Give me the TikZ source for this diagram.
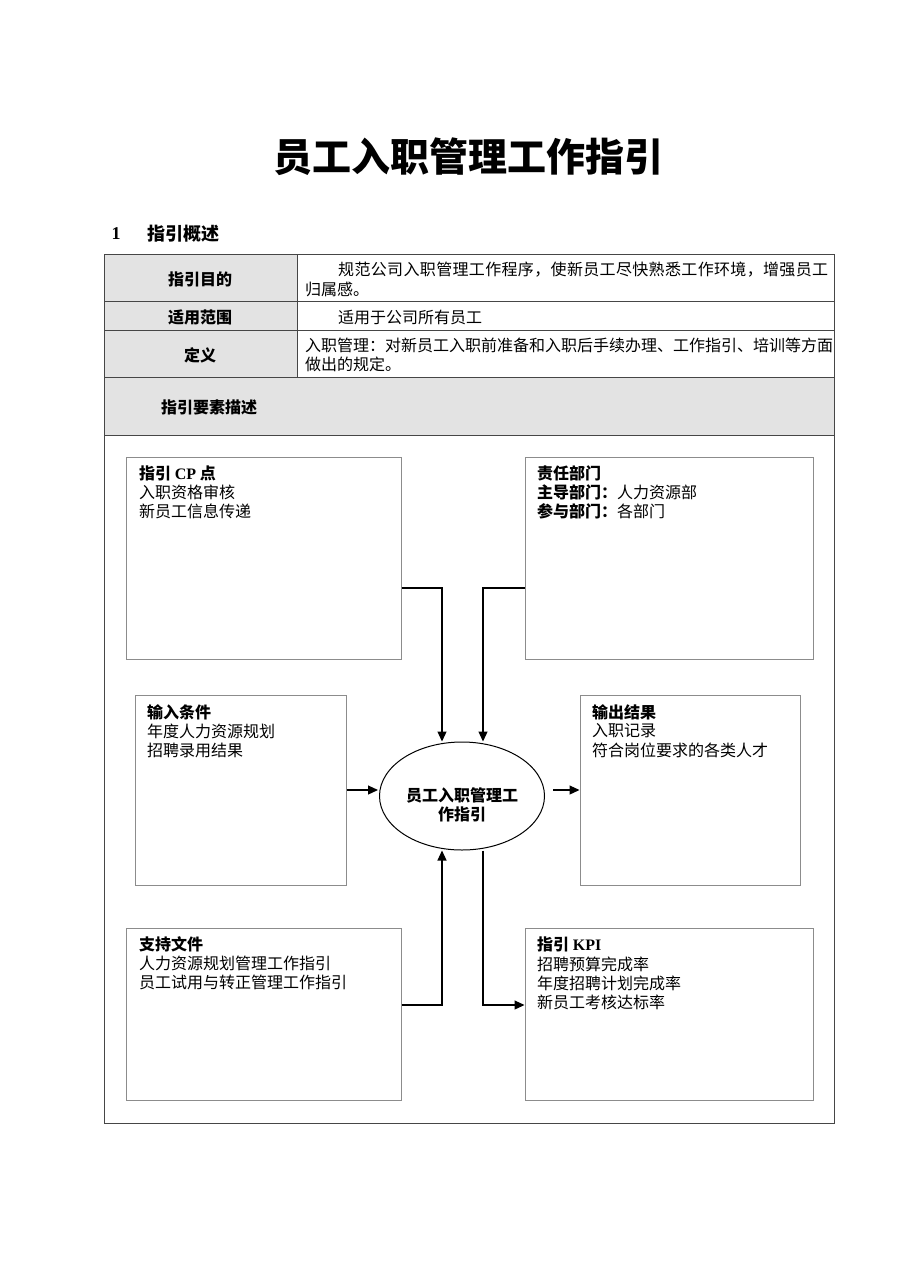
\documentclass[tikz,border=0pt]{standalone}
\usepackage{fontspec}
\setmainfont{Noto Sans CJK SC}
\newfontfamily\latf{Liberation Serif}
\usetikzlibrary{shapes.geometric,arrows.meta}
\definecolor{cellgray}{RGB}{227,227,227}
\definecolor{tabline}{RGB}{70,70,70}
\definecolor{boxline}{RGB}{140,140,140}
\ExplSyntaxOn
\bool_new:N \l_myspread_first_bool
\NewDocumentCommand\spreadline{mm}
  {
    \hbox to #1
      {
        \bool_set_true:N \l_myspread_first_bool
        \tl_map_inline:nn {#2}
          {
            \bool_if:NTF \l_myspread_first_bool
              { \bool_set_false:N \l_myspread_first_bool }
              { \hskip 0pt plus 1fil \relax }
            ##1
          }
      }
  }
\ExplSyntaxOff
\begin{document}
\begin{tikzpicture}[x=1pt,y=-1pt,
  txt/.style={anchor=west,inner sep=0pt,font=\fontsize{16pt}{19pt}\selectfont},
  lbl/.style={inner sep=0pt,font=\fontsize{16pt}{19pt}\selectfont\bfseries},
  infobox/.style={draw=boxline,line width=1pt,inner sep=0pt},
  arr/.style={draw=black,line width=1.2pt,-{Triangle[length=10pt,width=9pt]}},
  conn/.style={draw=black,line width=1.2pt}]
\useasboundingbox[fill=white] (0,0) rectangle (909,1286);

% title
\node[inner sep=0pt,font=\fontsize{39pt}{42pt}\selectfont\bfseries] (title) at (468,157) {员工入职管理工作指引};
\node[inner sep=0pt,anchor=center,font=\fontsize{18pt}{20pt}\selectfont\bfseries\latf] (secnum) at (116,234) {1};
\node[inner sep=0pt,anchor=west,font=\fontsize{18pt}{20pt}\selectfont\bfseries] (sectitle) at (147,234) {指引概述};

% table
\fill[cellgray] (104,254) rectangle (297,377);
\fill[cellgray] (104,377) rectangle (834,435);
\draw[tabline,line width=1pt] (104,254) rectangle (834,1123);
\draw[tabline,line width=1pt] (104,301) -- (834,301);
\draw[tabline,line width=1pt] (104,330) -- (834,330);
\draw[tabline,line width=1pt] (104,377) -- (834,377);
\draw[tabline,line width=1pt] (104,435) -- (834,435);
\draw[tabline,line width=1pt] (297,254) -- (297,377);

\node[lbl] (l1) at (200,279) {指引目的};
\node[lbl] (l2) at (200,317) {适用范围};
\node[lbl] (l3) at (200,355) {定义};
\node[txt] (t1a) at (338,270) {\spreadline{490pt}{规范公司入职管理工作程序，使新员工尽快熟悉工作环境，增强员工}};
\node[txt] (t1b) at (305,289) {归属感。};
\node[txt] (t2) at (338,317) {适用于公司所有员工};
\node[txt] (t3a) at (305,345) {\spreadline{523pt}{入职管理：对新员工入职前准备和入职后手续办理、工作指引、培训等方面}};
\node[txt] (t3b) at (305,364) {做出的规定。};
\node[txt,font=\fontsize{16pt}{19pt}\selectfont\bfseries] (l4) at (161,407) {指引要素描述};

% boxes
\node[infobox,minimum width=275pt,minimum height=202pt] (cp) at (263.5,558) {};
\node[infobox,minimum width=288pt,minimum height=202pt] (zr) at (669,558) {};
\node[infobox,minimum width=211pt,minimum height=190pt] (sr) at (240.5,790) {};
\node[infobox,minimum width=220pt,minimum height=190pt] (sc) at (690,790) {};
\node[infobox,minimum width=275pt,minimum height=172pt] (zc) at (263.5,1014) {};
\node[infobox,minimum width=288pt,minimum height=172pt] (kpi) at (669,1014) {};

% box texts
\node[txt] (cp1) at (139,473) {\bfseries 指引 {\latf CP} 点};
\node[txt] (cp2) at (139,492) {入职资格审核};
\node[txt] (cp3) at (139,511) {新员工信息传递};

\node[txt] (zr1) at (537,473) {\bfseries 责任部门};
\node[txt] (zr2) at (537,492) {{\bfseries 主导部门：}人力资源部};
\node[txt] (zr3) at (537,511) {{\bfseries 参与部门：}各部门};

\node[txt] (sr1) at (147,712) {\bfseries 输入条件};
\node[txt] (sr2) at (147,731) {年度人力资源规划};
\node[txt] (sr3) at (147,750) {招聘录用结果};

\node[txt] (sc1) at (592,712) {\bfseries 输出结果};
\node[txt] (sc2) at (592,731) {入职记录};
\node[txt] (sc3) at (592,750) {符合岗位要求的各类人才};

\node[txt] (zc1) at (139,944) {\bfseries 支持文件};
\node[txt] (zc2) at (139,963) {人力资源规划管理工作指引};
\node[txt] (zc3) at (139,982) {员工试用与转正管理工作指引};

\node[txt] (k1) at (537,944) {\bfseries 指引 {\latf KPI}};
\node[txt] (k2) at (537,964) {招聘预算完成率};
\node[txt] (k3) at (537,983) {年度招聘计划完成率};
\node[txt] (k4) at (537,1002) {新员工考核达标率};

% centre ellipse
\node[draw=black,line width=1pt,ellipse,minimum width=165pt,minimum height=108pt,inner sep=0pt] (el) at (462,796) {};
\node[lbl,align=center] (elt) at (462,805) {员工入职管理工\\作指引};

% connectors
\coordinate (j1) at (442,588);
\coordinate (j2) at (483,588);
\coordinate (j3) at (442,1005);
\coordinate (j4) at (483,1005);
\draw[arr] (cp.east |- j1) -- (j1) -- (j1 |- el.north);
\draw[arr] (zr.west |- j2) -- (j2) -- (j2 |- el.north);
\draw[arr] (zc.east |- j3) -- (j3) -- (j3 |- el.south);
\draw[arr] (j4 |- el.south) -- (j4) -- (kpi.west |- j4);
\draw[arr] (sr.east) -- ([xshift=-1pt]sr.east -| el.west);
\draw[arr] ([xshift=8pt]sc.west -| el.east) -- (sc.west);
\end{tikzpicture}
\end{document}
